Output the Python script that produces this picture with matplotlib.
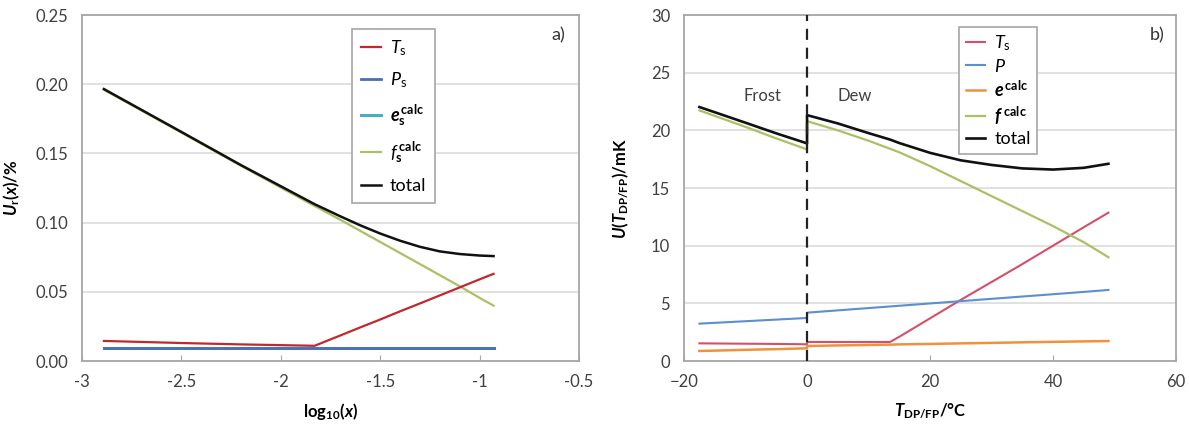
import numpy as np
import matplotlib
matplotlib.use('Agg')
import matplotlib.pyplot as plt

plt.rcParams['font.family'] = ['Lato', 'DejaVu Sans']
plt.rcParams['mathtext.fontset'] = 'custom'
plt.rcParams['mathtext.rm'] = 'Lato'
plt.rcParams['mathtext.it'] = 'Lato:italic'
plt.rcParams['mathtext.bf'] = 'Lato:bold'
plt.rcParams['mathtext.bfit'] = 'Lato:bold:italic'

# ---- panel a) data : relative uncertainty vs log10(x)
logx_a   = [-2.89, -2.5, -2.2, -1.83, -1.7, -1.6, -1.5, -1.4, -1.3, -1.2, -1.1, -1.0, -0.93]
Ts_a     = [0.0145, 0.013, 0.012, 0.011, 0.0185, 0.0243, 0.030, 0.0359, 0.0416, 0.0474, 0.0532, 0.059, 0.063]
Ps_a     = [0.0095, 0.0095, 0.0095, 0.0095, 0.0095, 0.0095, 0.0095, 0.0095, 0.0095, 0.0095, 0.0095, 0.0095, 0.0095]
es_a     = [0.0093, 0.0093, 0.0093, 0.0093, 0.0093, 0.0093, 0.0093, 0.0093, 0.0093, 0.0093, 0.0093, 0.0093, 0.0093]
fs_a     = [0.196, 0.165, 0.141, 0.112, 0.102, 0.094, 0.086, 0.078, 0.070, 0.062, 0.054, 0.0456, 0.040]
total_a  = [0.1965, 0.1655, 0.1415, 0.1133, 0.1045, 0.098, 0.0921, 0.0869, 0.0825, 0.0792, 0.0773, 0.0762, 0.0758]

# ---- panel b) data : uncertainty vs dew/frost point temperature
T_b      = [-17.5, -15, -10, -5, 0, 0, 5, 10, 13.5, 15, 20, 25, 30, 35, 40, 45, 49]
Ts_b     = [1.53, 1.52, 1.50, 1.48, 1.45, 1.65, 1.65, 1.65, 1.65, 2.1, 3.7, 5.3, 6.85, 8.4, 10.0, 11.6, 12.86]
P_b      = [3.24, 3.31, 3.45, 3.59, 3.73, 4.19, 4.39, 4.59, 4.73, 4.79, 4.99, 5.19, 5.39, 5.59, 5.79, 5.99, 6.16]
e_b      = [0.87, 0.90, 0.97, 1.03, 1.10, 1.30, 1.35, 1.39, 1.42, 1.44, 1.48, 1.53, 1.57, 1.62, 1.66, 1.70, 1.73]
f_b      = [21.73, 21.25, 20.3, 19.3, 18.35, 20.8, 20.0, 19.1, 18.4, 18.1, 16.9, 15.6, 14.3, 13.0, 11.7, 10.3, 9.0]
total_b  = [22.02, 21.57, 20.66, 19.74, 18.87, 21.32, 20.6, 19.76, 19.2, 18.9, 18.05, 17.4, 17.0, 16.7, 16.6, 16.75, 17.1]

xticks_a = [-3, -2.5, -2, -1.5, -1, -0.5]
xticklabels_a = ['-3', '-2.5', '-2', '-1.5', '-1', '-0.5']
yticks_a = [0.0, 0.05, 0.10, 0.15, 0.20, 0.25]
xticks_b = [-20, 0, 20, 40, 60]
yticks_b = [0, 5, 10, 15, 20, 25, 30]

label_size = 12
spine_col = '#a6a6a6'
grid_col = '#d9d9d9'

fig = plt.figure(figsize=(11.89, 4.29), dpi=100)
ax1 = fig.add_axes([0.069, 0.1585, 0.418, 0.8065])
ax2 = fig.add_axes([0.5753, 0.1585, 0.4138, 0.8065])


def style_axes(ax):
    for s in ax.spines.values():
        s.set_color(spine_col)
        s.set_linewidth(1.3)
    ax.yaxis.grid(True, color=grid_col, linewidth=1.1)
    ax.set_axisbelow(True)
    ax.tick_params(axis='y', length=0, pad=10, labelsize=label_size)
    ax.tick_params(axis='x', direction='in', length=4, color=spine_col, pad=9,
                   labelsize=label_size)
    for lab in ax.get_xticklabels() + ax.get_yticklabels():
        lab.set_color('#404040')


# ----- a)
ax1.plot(logx_a, es_a, color='#4bacc6', linewidth=2.2, label=r'$\mathbfit{e}_\mathbf{s}^{\,\mathbf{calc}}$', zorder=3)
ax1.plot(logx_a, Ps_a, color='#4a6fb5', linewidth=2.0, label=r'$P_\mathrm{s}$', zorder=4)
ax1.plot(logx_a, fs_a, color='#a9c163', linewidth=1.6, label=r'$f_\mathbf{s}^{\,\mathbf{calc}}$', zorder=4)
ax1.plot(logx_a, Ts_a, color='#c0282d', linewidth=1.6, label=r'$T_\mathrm{s}$', zorder=5)
ax1.plot(logx_a, total_a, color='#111111', linewidth=1.8, label='total', zorder=6)
ax1.set_xlim(-3, -0.5)
ax1.set_ylim(0, 0.25)
ax1.set_xticks(xticks_a)
ax1.set_xticklabels(xticklabels_a)
ax1.set_yticks(yticks_a)
ax1.set_yticklabels(['%.2f' % v for v in yticks_a])
style_axes(ax1)
ax1.set_xlabel(r'$\mathbf{log_{10}(}\mathbfit{x}\mathbf{)}$', fontsize=12, labelpad=8)
ax1.set_ylabel(r'$\mathbfit{U}_\mathbf{r}\mathbf{(}\mathbfit{x}\mathbf{)/\%}$', fontsize=12, labelpad=10)
ax1.text(0.958, 0.942, 'a)', transform=ax1.transAxes, ha='center', va='center', fontsize=13, color='#333333')

h, l = ax1.get_legend_handles_labels()
order = [3, 1, 0, 2, 4]
leg1 = ax1.legend([h[i] for i in order], [l[i] for i in order], loc='upper left',
                  bbox_to_anchor=(0.525, 0.986), fontsize=13, handlelength=1.1,
                  handletextpad=0.5, labelspacing=0.7, borderpad=0.5,
                  fancybox=False, framealpha=1, edgecolor=spine_col)
leg1.get_frame().set_linewidth(1.2)
leg1.set_zorder(10)

# ----- b)
ax2.axvline(0, color='#222222', linestyle=(0, (5, 3.5)), linewidth=1.6, zorder=7)
ax2.plot(T_b, Ts_b, color='#d4506a', linewidth=1.5, label=r'$T_\mathrm{s}$', zorder=4)
ax2.plot(T_b, P_b, color='#5b8fd0', linewidth=1.5, label=r'$P$', zorder=4)
ax2.plot(T_b, e_b, color='#f0913f', linewidth=1.8, label=r'$\mathbfit{e}^{\,\mathbf{calc}}$', zorder=4)
ax2.plot(T_b, f_b, color='#a9c163', linewidth=1.6, label=r'$\mathbfit{f}^{\ \mathbf{calc}}$', zorder=4)
ax2.plot(T_b, total_b, color='#111111', linewidth=1.9, label='total', zorder=6)
ax2.set_xlim(-20, 60)
ax2.set_ylim(0, 30)
ax2.set_xticks(xticks_b)
ax2.set_yticks(yticks_b)
style_axes(ax2)
ax2.set_xlabel(r'$\mathbfit{T}_\mathbf{DP/FP}\mathbf{/°C}$', fontsize=12, labelpad=8)
ax2.set_ylabel(r'$\mathbfit{U}\mathbf{(}\mathbfit{T}_\mathbf{DP/FP}\mathbf{)/mK}$', fontsize=12, labelpad=14)
ax2.text(0.961, 0.942, 'b)', transform=ax2.transAxes, ha='center', va='center', fontsize=13, color='#333333')
ax2.text(-7.3, 23, 'Frost', ha='center', va='center', fontsize=12, color='#404040')
ax2.text(7.8, 23, 'Dew', ha='center', va='center', fontsize=12, color='#404040')

leg2 = ax2.legend(loc='upper left', bbox_to_anchor=(0.541, 0.991), fontsize=13,
                  handlelength=1.1, handletextpad=0.5, labelspacing=0.25, borderpad=0.35,
                  fancybox=False, framealpha=1, edgecolor=spine_col)
leg2.get_frame().set_linewidth(1.2)
leg2.set_zorder(10)

plt.savefig('out.png', dpi=100, facecolor='white')
